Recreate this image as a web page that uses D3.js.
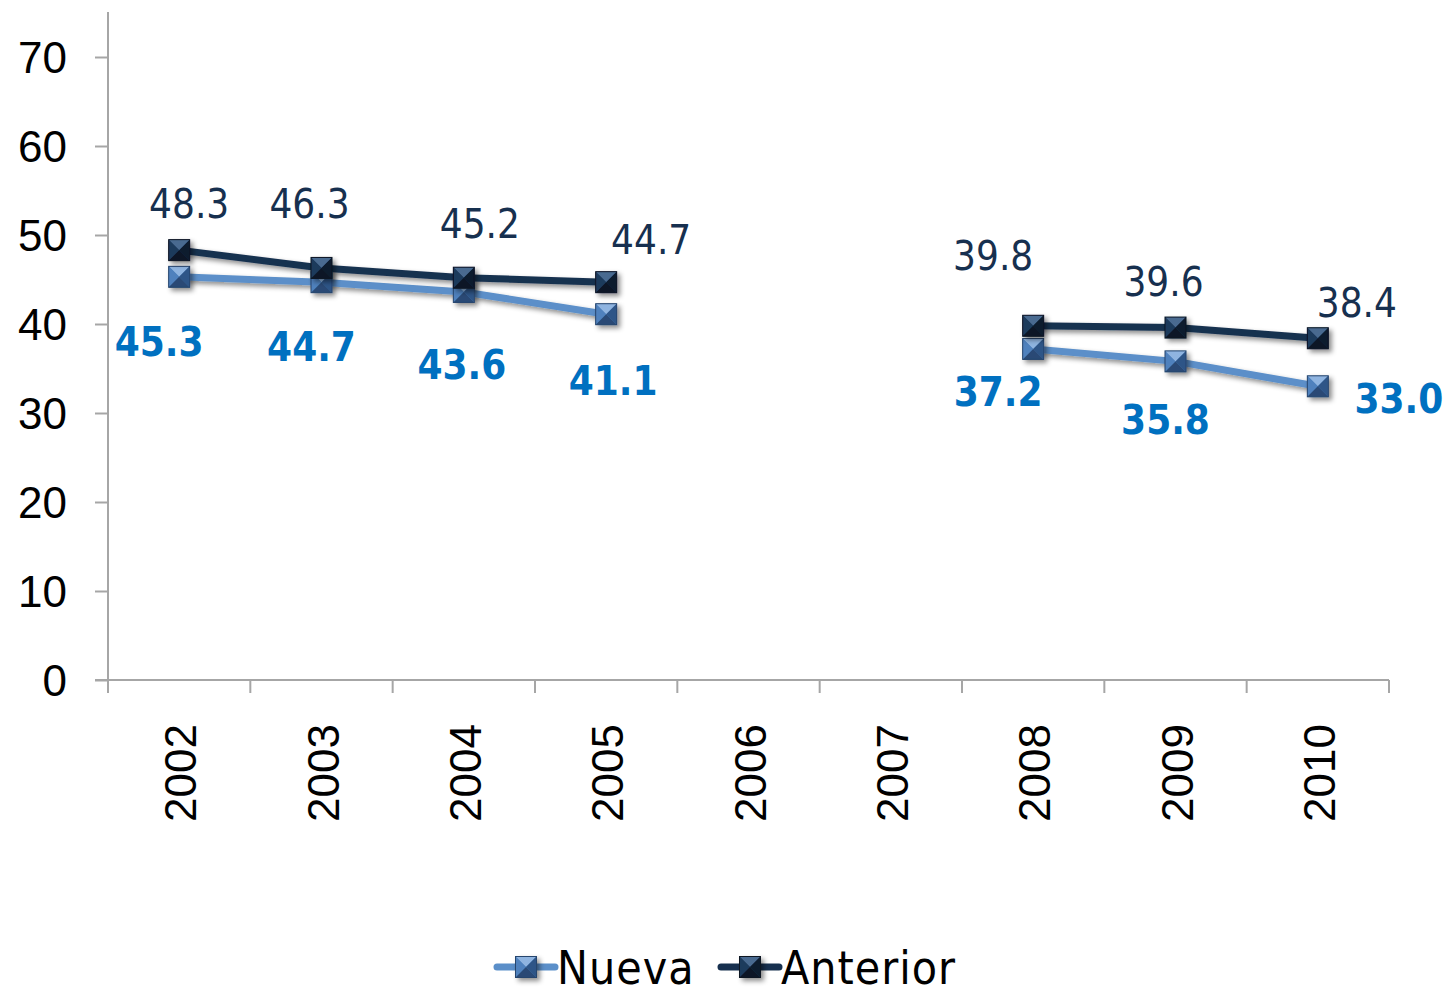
<!DOCTYPE html>
<html>
<head>
<meta charset="utf-8">
<script src="https://cdn.jsdelivr.net/npm/d3@7"></script>
<style>
  body { margin: 0; background: #fff; }
  svg text { font-family: "DejaVu Sans Condensed", "DejaVu Sans", sans-serif; }
</style>
</head>
<body>
<div id="chart"></div>
<script>
// data
var years = ["2002", "2003", "2004", "2005", "2006", "2007", "2008", "2009", "2010"];
var nueva = [45.3, 44.7, 43.6, 41.1, null, null, 37.2, 35.8, 33.0];
var anterior = [48.3, 46.3, 45.2, 44.7, null, null, 39.8, 39.6, 38.4];
var yTicks = [0, 10, 20, 30, 40, 50, 60, 70];

// label placement (pixel offsets from the point)
var nuevaLabelDx = [-20, -10, -2, 7, 0, 0, -35, -10, 81];
var nuevaLabelDy = [79, 79, 87, 81, 0, 0, 57, 73, 27];
var anteriorLabelDx = [10, -12, 16, 45, 0, 0, -40, -12, 39];
var anteriorLabelDy = [-32, -50, -40, -28, 0, 0, -56, -32, -21];

var width = 1448, height = 993;
var left = 108, right = 1389, top0 = 57, bottom = 680;

var svg = d3.select("#chart").append("svg")
    .attr("width", width)
    .attr("height", height);

var defs = svg.append("defs");
var shadow = defs.append("filter").attr("id", "shadow")
    .attr("x", "-50%").attr("y", "-50%").attr("width", "200%").attr("height", "200%");
shadow.append("feDropShadow")
    .attr("dx", 3).attr("dy", 3).attr("stdDeviation", 2.5)
    .attr("flood-color", "#000").attr("flood-opacity", 0.45);

var x = d3.scaleBand().domain(years).range([left, right]);
var y = d3.scaleLinear().domain([0, 70]).range([bottom, top0]);

// y axis
var yAxis = d3.axisLeft(y).tickValues(yTicks).tickSize(13).tickPadding(28);
var gy = svg.append("g").attr("transform", "translate(" + left + ",0)").call(yAxis);
gy.select(".domain").remove();
gy.selectAll("line").attr("stroke", "#a6a6a6").attr("stroke-width", 2);
gy.selectAll("text")
    .style("font-family", "'Liberation Sans', Arial, sans-serif")
    .attr("font-size", 44).attr("fill", "#000").attr("dy", "0.35em");
svg.append("line")
    .attr("x1", left).attr("x2", left).attr("y1", 12).attr("y2", bottom + 13)
    .attr("stroke", "#a6a6a6").attr("stroke-width", 2);

// x axis
svg.append("line")
    .attr("x1", left - 13).attr("x2", right).attr("y1", bottom).attr("y2", bottom)
    .attr("stroke", "#a6a6a6").attr("stroke-width", 2);
var bounds = years.map(function(d) { return x(d); }).concat([right]);
svg.selectAll(".xtick").data(bounds).enter().append("line")
    .attr("x1", function(d) { return d; }).attr("x2", function(d) { return d; })
    .attr("y1", bottom).attr("y2", bottom + 13)
    .attr("stroke", "#a6a6a6").attr("stroke-width", 2);
svg.selectAll(".xlabel").data(years).enter().append("text")
    .attr("transform", function(d) {
        return "translate(" + (x(d) + x.bandwidth() / 2 + 17) + "," + (bottom + 44) + ") rotate(-90)";
    })
    .attr("text-anchor", "end")
    .style("font-family", "'Liberation Sans', Arial, sans-serif")
    .attr("font-size", 44)
    .attr("fill", "#000")
    .text(function(d) { return d; });

function cx(i) { return x(years[i]) + x.bandwidth() / 2; }

function drawMarker(g, px, py, base, light, dark) {
    var s = 10.5;
    var m = g.append("g").attr("transform", "translate(" + px + "," + py + ")")
        .attr("filter", "url(#shadow)");
    m.append("rect").attr("x", -s).attr("y", -s).attr("width", 2 * s).attr("height", 2 * s)
        .attr("fill", base);
    // pyramid facets
    m.append("path").attr("d", "M" + (-s) + "," + (-s) + "L" + s + "," + (-s) + "L0,0Z").attr("fill", light);
    m.append("path").attr("d", "M" + (-s) + "," + (-s) + "L" + (-s) + "," + s + "L0,0Z").attr("fill", base);
    m.append("path").attr("d", "M" + s + "," + (-s) + "L" + s + "," + s + "L0,0Z").attr("fill", dark);
    m.append("path").attr("d", "M" + (-s) + "," + s + "L" + s + "," + s + "L0,0Z").attr("fill", d3.color(dark).darker(0.4));
    m.append("rect").attr("x", -s).attr("y", -s).attr("width", 2 * s).attr("height", 2 * s)
        .attr("fill", "none").attr("stroke", d3.color(dark).darker(0.6)).attr("stroke-width", 1);
}

var series = [
    { name: "Nueva", values: nueva, line: "#5b8fc9", base: "#4f81bd", light: "#8fb4e0", dark: "#2f5587",
      color: "#0070c0", weight: "bold", dx: nuevaLabelDx, dy: nuevaLabelDy },
    { name: "Anterior", values: anterior, line: "#17304f", base: "#1f3a5c", light: "#4a6a90", dark: "#0c1a2d",
      color: "#17304f", weight: "normal", dx: anteriorLabelDx, dy: anteriorLabelDy }
];

var line = d3.line()
    .defined(function(d) { return d != null; })
    .x(function(d, i) { return cx(i); })
    .y(function(d) { return y(d); });

series.forEach(function(s) {
    svg.append("path")
        .attr("d", line(s.values))
        .attr("fill", "none")
        .attr("stroke", s.line)
        .attr("stroke-width", 7)
        .attr("stroke-linejoin", "round")
        .attr("filter", "url(#shadow)");
});

series.forEach(function(s) {
    var g = svg.append("g");
    s.values.forEach(function(v, i) {
        if (v == null) return;
        drawMarker(g, cx(i), y(v), s.base, s.light, s.dark);
    });
});

series.forEach(function(s) {
    s.values.forEach(function(v, i) {
        if (v == null) return;
        svg.append("text")
            .attr("x", cx(i) + s.dx[i])
            .attr("y", y(v) + s.dy[i])
            .attr("text-anchor", "middle")
            .attr("font-size", 40)
            .attr("font-weight", s.weight)
            .attr("fill", s.color)
            .text(d3.format(".1f")(v));
    });
});

// legend
var legend = [
    { name: "Nueva", x0: 497, s: series[0] },
    { name: "Anterior", x0: 721, s: series[1] }
];
legend.forEach(function(l) {
    var ly = 967;
    svg.append("line")
        .attr("x1", l.x0).attr("x2", l.x0 + 58).attr("y1", ly).attr("y2", ly)
        .attr("stroke", l.s.line).attr("stroke-width", 7).attr("stroke-linecap", "round");
    drawMarker(svg, l.x0 + 29, ly, l.s.base, l.s.light, l.s.dark);
    svg.append("text")
        .attr("x", l.x0 + 60).attr("y", ly + 17)
        .attr("font-size", 46)
        .attr("letter-spacing", 1)
        .attr("fill", "#000")
        .text(l.name);
});
</script>
</body>
</html>
